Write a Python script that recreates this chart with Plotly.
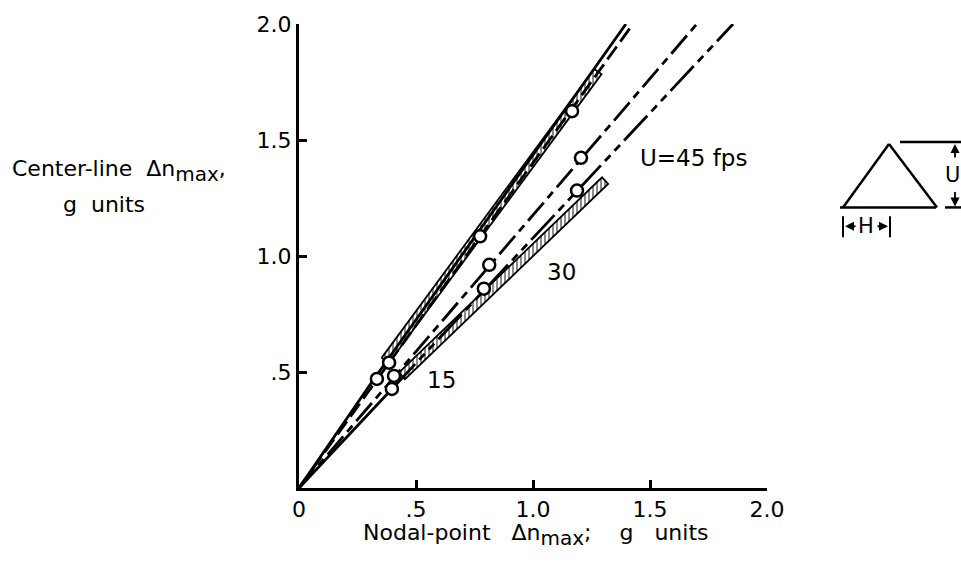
import plotly.graph_objects as go

# ---- data (g units) ----
# measured peaks: open circles, grouped by fairing line
upper_x = [0.333, 0.385, 0.774, 1.167]
upper_y = [0.470, 0.540, 1.085, 1.624]
mid_x = [0.406, 0.813, 1.205]
mid_y = [0.483, 0.962, 1.423]
low_x = [0.397, 0.790, 1.188]
low_y = [0.427, 0.859, 1.282]

# faired lines from the origin
solid_x = [0.0, 0.31, 1.397]
solid_y = [0.0, 0.455, 2.0]
dash_upper_x = [0.0, 1.427]
dash_upper_y = [0.0, 2.0]
dash_mid_x = [0.0, 1.70]
dash_mid_y = [0.0, 2.0]
low_solid_x = [0.0, 0.397]
low_solid_y = [0.0, 0.427]
dash_low_x = [0.397, 1.855]
dash_low_y = [0.427, 2.0]

# hatched calculated ranges (closed outlines)
band_upper_x = [0.353, 1.262, 1.293, 0.384, 0.353]
band_upper_y = [0.561, 1.806, 1.784, 0.539, 0.561]
band_lower_x = [0.427, 1.295, 1.321, 0.453, 0.427]
band_lower_y = [0.497, 1.339, 1.311, 0.469, 0.497]

tick_vals = [0, 0.5, 1.0, 1.5, 2.0]
x_tick_text = ["0", ".5", "1.0", "1.5", "2.0"]
y_tick_text = ["", ".5", "1.0", "1.5", "2.0"]

# curve labels: (text, x, y)
curve_labels = [("15", 0.611, 0.466), ("30", 1.12, 0.93), ("U=45 fps", 1.684, 1.423)]

W, H = 961, 563
ML, MR, MT, MB = 299, 194, 20, 75
PW, PH = W - ML - MR, H - MT - MB
FONT = "DejaVu Sans"
SP = "\u00a0"


def P(px, py):
    """Pixel position on the page -> paper coordinates."""
    return (px - ML) / PW, (H - MB - py) / PH


fig = go.Figure()

for bx, by in [(band_upper_x, band_upper_y), (band_lower_x, band_lower_y)]:
    fig.add_trace(go.Scatter(
        x=bx, y=by, mode="lines", fill="toself",
        fillcolor="white",
        fillpattern=dict(shape="|", fgcolor="black", bgcolor="white", size=4, solidity=0.45),
        line=dict(color="black", width=1.8), hoverinfo="skip", showlegend=False))

line_specs = [
    (solid_x, solid_y, "solid"),
    (dash_upper_x, dash_upper_y, "16px,6px"),
    (dash_mid_x, dash_mid_y, "24px,6px,8px,6px"),
    (low_solid_x, low_solid_y, "solid"),
    (dash_low_x, dash_low_y, "34px,6px,8px,6px,8px,6px"),
]
for lx, ly, dash in line_specs:
    fig.add_trace(go.Scatter(x=lx, y=ly, mode="lines",
                             line=dict(color="black", width=2.8, dash=dash),
                             hoverinfo="skip", showlegend=False))

for cx, cy in [(upper_x, upper_y), (mid_x, mid_y), (low_x, low_y)]:
    fig.add_trace(go.Scatter(x=cx, y=cy, mode="markers",
                             marker=dict(symbol="circle", size=12, color="white",
                                         line=dict(color="black", width=2.5)),
                             showlegend=False))

for text, tx, ty in curve_labels:
    fig.add_annotation(x=tx, y=ty, text=text, showarrow=False,
                       xanchor="center", yanchor="middle",
                       font=dict(family=FONT, size=23, color="black"))


def label(text, px, py, xanchor="center", size=22):
    tx, ty = P(px, py)
    fig.add_annotation(x=tx, y=ty, xref="paper", yref="paper", text=text, showarrow=False,
                       xanchor=xanchor, yanchor="middle",
                       font=dict(family=FONT, size=size, color="black"))


SUB = '<sub><span style="font-size:20px">max</span></sub>'

# axis titles
label("Center-line" + SP * 2 + "\u0394n" + SUB + ",", 10, 168, xanchor="left")
label("g" + SP * 2 + "units", 104, 202)
label("Nodal-point" + SP * 3 + "\u0394n" + SUB + ";" + SP * 4 + "g" + SP * 3 + "units", 536, 535)


# gust shape sketch: triangle of height U and gradient distance H
def seg(p0, p1, width=2.5):
    x0, y0 = P(*p0)
    x1, y1 = P(*p1)
    fig.add_shape(type="line", xref="paper", yref="paper", x0=x0, y0=y0, x1=x1, y1=y1,
                  line=dict(color="black", width=width))


seg((843, 205), (889, 141))
seg((889, 141), (937, 205))
seg((840, 205), (936, 205))
seg((945, 205), (961, 205))
seg((900, 139), (961, 139))
seg((843, 214), (843, 235), 2)
seg((890, 214), (890, 235), 2)


def arrow(head, tail):
    hx, hy = P(*head)
    fig.add_annotation(x=hx, y=hy, xref="paper", yref="paper", text="",
                       showarrow=True, arrowhead=2, arrowsize=1, arrowwidth=1.8,
                       arrowcolor="black", ax=tail[0] - head[0], ay=tail[1] - head[1])


arrow((955, 141), (955, 156))
arrow((955, 204), (955, 188))
arrow((845, 224), (857, 224))
arrow((888, 224), (876, 224))

label("U", 952, 172, size=21)
label("H", 866, 224, size=21)

axis_common = dict(range=[0, 2], showline=True, linecolor="black", linewidth=3,
                   ticks="inside", ticklen=8, tickwidth=2.5, tickcolor="black",
                   showgrid=False, zeroline=False, tickvals=tick_vals,
                   tickfont=dict(family=FONT, size=22, color="black"))
fig.update_xaxes(ticktext=x_tick_text, **axis_common)
fig.update_yaxes(ticktext=y_tick_text, **axis_common)

fig.update_layout(width=W, height=H, margin=dict(l=ML, r=MR, t=MT, b=MB),
                  plot_bgcolor="white", paper_bgcolor="white", showlegend=False)

fig.write_html("out.html")
